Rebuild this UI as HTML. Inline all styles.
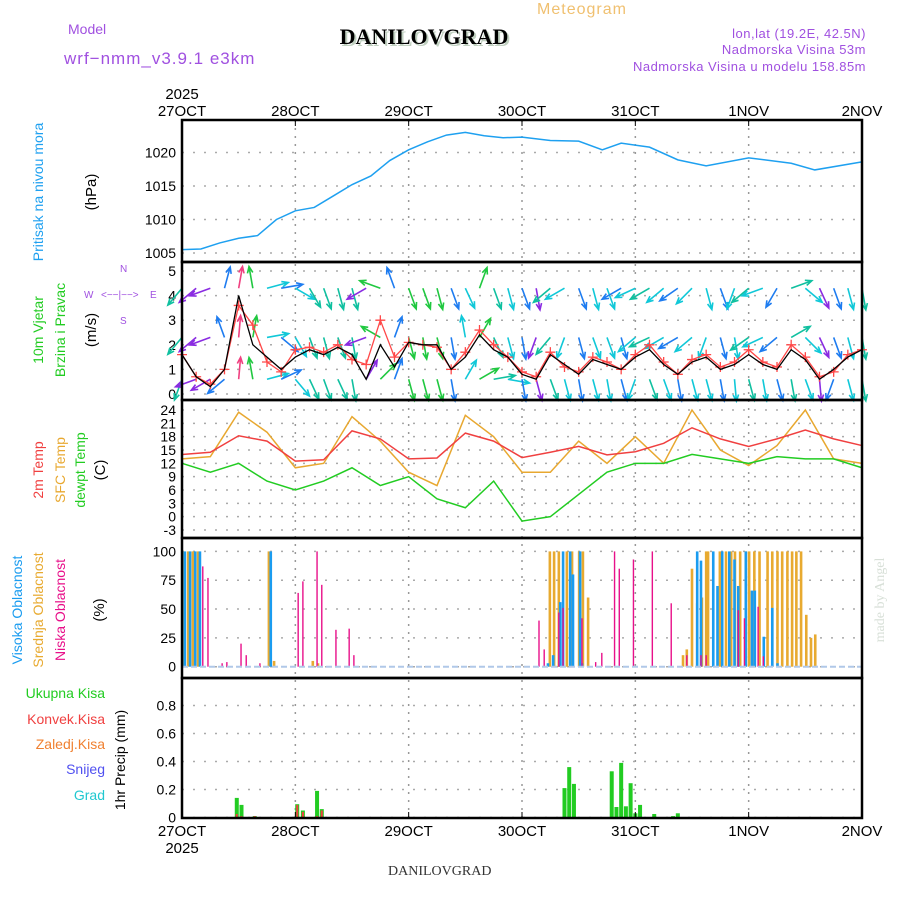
<!DOCTYPE html>
<html><head><meta charset="utf-8">
<style>
html,body{margin:0;padding:0;background:#fff;}
svg{display:block;font-family:"Liberation Sans",sans-serif;}
</style></head>
<body>
<svg id="chart" width="900" height="900" viewBox="0 0 900 900" xmlns="http://www.w3.org/2000/svg">
<text x="582" y="14" font-size="16" fill="#f0c070" text-anchor="middle" letter-spacing="1">Meteogram</text>
<text x="68" y="34" font-size="14" fill="#a050e0">Model</text>
<text x="64" y="64" font-size="17" fill="#a050e0" letter-spacing="1">wrf−nmm_v3.9.1 e3km</text>
<text x="424" y="44" font-size="22" font-weight="bold" fill="#c0d0c0" text-anchor="middle" font-family="Liberation Serif" transform="translate(2,2)">DANILOVGRAD</text>
<text x="424" y="44" font-size="22" font-weight="bold" fill="#000" text-anchor="middle" font-family="Liberation Serif">DANILOVGRAD</text>
<text x="866" y="38" font-size="13" fill="#a050e0" text-anchor="end" letter-spacing="0.5">lon,lat (19.2E, 42.5N)</text>
<text x="866" y="54" font-size="13" fill="#a050e0" text-anchor="end" letter-spacing="0.5">Nadmorska Visina 53m</text>
<text x="866" y="71" font-size="13" fill="#a050e0" text-anchor="end" letter-spacing="0.5">Nadmorska Visina u modelu 158.85m</text>
<text x="388" y="875" font-size="14" fill="#333" font-family="Liberation Serif">DANILOVGRAD</text>
<text transform="translate(884,600) rotate(-90)" font-size="14" fill="#d8e0d8" text-anchor="middle" font-family="Liberation Serif">made by Angel</text>
<g id="g"></g>
</svg>
<script>
// ---------- data ----------
const dayLabels = ["27OCT","28OCT","29OCT","30OCT","31OCT","1NOV","2NOV"];
const presHours = [0,4,8,12,16,20,24,28,32,36,40,44,48,52,56,60,64,68,72,78,84,89,93,99,105,111,120,129,134,144];
const presVals = [1005.5,1005.6,1006.5,1007.2,1007.6,1010,1011.3,1011.8,1013.5,1015.2,1016.5,1018.8,1020.4,1021.6,1022.6,1023,1022.5,1022.2,1022.3,1021.8,1021.7,1020.4,1021.4,1020.8,1018.9,1018,1019.2,1018.4,1017.4,1018.6];
const presTicks = [1005,1010,1015,1020];
const windHours = [0,3,6,9,12,15,18,21,24,27,30,33,36,39,42,45,48,51,54,57,60,63,66,69,72,75,78,81,84,87,90,93,96,99,102,105,108,111,114,117,120,123,126,129,132,135,138,141,144];
const windSpeed = [1.6,0.7,0.3,1.0,4.0,2.0,1.5,1.0,1.5,1.8,1.6,1.9,1.6,0.6,2.0,1.1,2.1,2.0,2.0,1.0,1.5,2.4,1.8,1.5,0.8,0.6,1.6,1.2,0.8,1.4,1.2,1.0,1.5,1.8,1.2,0.8,1.3,1.5,1.0,1.2,1.6,1.2,1.0,1.8,1.4,0.6,1.0,1.5,1.8];
const gustSpeed = [1.6,0.7,0.4,1.0,3.6,2.8,1.3,0.9,1.8,1.9,1.7,2.0,1.4,1.2,3.0,1.5,2.1,2.0,1.9,1.0,1.7,2.6,2.0,1.5,0.9,0.7,1.7,1.1,0.9,1.5,1.3,1.0,1.6,2.0,1.3,0.8,1.4,1.6,1.1,1.3,1.8,1.3,1.1,2.0,1.5,0.7,0.9,1.6,1.8];
const windTicks = [0,1,2,3,4,5];
const dirTop = [220,230,250,15,10,350,75,80,120,150,160,165,165,240,290,340,160,160,165,160,155,20,160,165,160,170,230,240,160,165,160,240,245,240,230,235,225,165,160,200,230,250,210,70,130,155,160,165,170];
const dirMid = [220,230,250,340,5,10,80,130,150,160,165,160,170,250,300,20,165,170,165,170,350,30,155,165,170,200,220,200,165,160,160,165,230,245,240,240,230,200,165,170,235,245,230,60,135,155,160,165,170];
const dirLow = [200,250,240,230,5,350,75,65,140,155,160,155,170,30,45,20,165,165,165,170,30,60,80,100,170,165,160,165,170,165,170,165,200,160,160,170,165,165,170,175,165,170,165,170,160,175,200,165,170];
const rowLevels = [4.3,2.3,0.6];
const tempHours = [0,6,12,18,24,30,36,42,48,54,60,66,72,78,84,90,96,102,108,114,120,126,132,138,144];
const temp2m = [14,14.5,18.2,17.0,12.5,12.8,19.3,17.5,13.0,13.2,18.8,17.0,13.3,14.5,15.8,13.9,14.6,16.5,20.0,17.5,15.8,17.5,19.5,17.5,16.0];
const tempSfc = [13,13.5,23.5,19,11,12,22.5,17,10,7,22.8,18,10,10,17,12,18,12,24,15,11.5,16,24,13,12];
const tempDew = [12,10,12,8,6,8,11,7,9,4,2,8,-1,0,5,10,12,12,14,13,12,13.5,13,13,11];
const tempTicks = [-3,0,3,6,9,12,15,18,21,24];
const highHours = [0.6,1.7,2.8,3.8,18.8,77.5,78.6,80.1,80.7,82.2,82.8,84.3,84.7,109.1,109.9,112.5,113.4,114.4,115.9,117.0,117.8,119.4,120.7,121.3,123.2,125.0,126.1];
const highVals = [100,100,100,100,100,3,10,56,100,100,80,100,3,100,92,100,70,100,100,93,70,100,66,66,26,51,3];
const midHours = [0.2,1.3,2.3,3.4,18.4,19.5,27.7,28.8,77.9,78.8,79.8,81.5,82.6,84.1,84.9,86.0,106.1,106.9,108.0,109.1,110.1,111.0,111.4,113.9,115.2,116.3,117.1,118.2,119.4,120.1,121.2,122.3,124.0,125.0,126.1,127.1,128.2,129.2,130.1,131.1,132.2,133.2,134.1];
const midVals = [100,100,100,100,100,5,5,3,100,100,100,100,100,100,100,60,10,15,85,55,60,100,100,100,100,100,100,100,100,100,100,100,100,100,100,100,100,100,100,100,45,25,28];
const lowHours = [4.4,5.5,8.5,9.5,12.5,13.6,16.5,24.6,25.6,28.6,29.6,32.6,35.4,36.4,75.6,76.7,79.8,80.7,84.7,87.6,88.9,91.6,92.6,95.6,99.6,103.6,106.9,109.9,111.0,117.8,119.1,122.0,123.1];
const lowVals = [87,77,3,4,20,10,3,64,74,100,71,32,33,10,40,15,47,51,42,4,12,100,85,93,100,55,10,10,10,49,42,52,9];
const cloudTicks = [0,25,50,75,100];
const precipHours = [11.6,12.6,15.4,24.4,25.6,28.6,29.6,81,82,83,91,92,93,94,95,96,97,100,104,105];
const precipTotal = [0.14,0.09,0.01,0.095,0.05,0.19,0.06,0.21,0.36,0.24,0.33,0.075,0.39,0.08,0.245,0.03,0.09,0.025,0.01,0.03];
const precipConv = [0.025,0.01,0.01,0.09,0.04,0.01,0.05,0,0,0,0,0,0,0,0,0,0,0,0,0];
const precipTicks = [0,0.2,0.4,0.6,0.8];

// ---------- scales ----------
const X0=182, X1=862;
const X = h => X0 + h*(X1-X0)/144;
const yP = p => 253 - (p-1005)*6.7;
const yW = v => 394 - v*24.6;
const yT = t => 410 + (24-t)*4.444;
const yC = c => 666.7 - c*1.153;
const yR = r => 817.5 - r*140;
const panels = [[120,262],[262,400],[400,538],[538,678],[678,818]];
const NS="http://www.w3.org/2000/svg";
const G=document.getElementById('g');
function mk(tag, attrs, parent){const e=document.createElementNS(NS,tag);for(const k in attrs)e.setAttribute(k,attrs[k]);(parent||G).appendChild(e);return e;}
function txt(s,attrs,parent){const e=mk('text',attrs,parent);e.textContent=s;return e;}

// gridlines
for(let d=1;d<6;d++){
  const l=mk('line',{x1:X(d*24),x2:X(d*24),y1:120,y2:818,stroke:'#999','stroke-width':1.5,'stroke-dasharray':'2,6'});
  
  
}
function hgrid(ticks,f,fmt,name){
  ticks.forEach(t=>{
    const l=mk('line',{x1:X0,x2:X1,y1:f(t),y2:f(t),stroke:'#aaa','stroke-width':1.5,'stroke-dasharray':'2,9'});
    
    
    const tx=txt(fmt(t),{x:176,y:f(t)+5,'font-size':14,'text-anchor':'end',fill:'#000'});
    
    
  });
}
hgrid(presTicks,yP,String,'pressure');
hgrid(windTicks,yW,String,'wind');
hgrid(tempTicks,yT,String,'temp');
hgrid(cloudTicks,yC,String,'cloud');
hgrid(precipTicks,yR,t=>t===0?'0':t.toFixed(1),'precip');

// pressure
const pl=mk('polyline',{points:presHours.map((h,i)=>X(h)+','+yP(presVals[i])).join(' '),fill:'none',stroke:'#1ea0f0','stroke-width':1.5});



// wind arrows
function speedColor(v){if(v<0.8)return '#8a2be2';if(v<1.2)return '#1e7cf0';if(v<1.6)return '#10c8d8';if(v<2.0)return '#10c0a0';if(v<2.6)return '#20c840';if(v<3.2)return '#90d830';return '#f04080';}
const dirRows=[dirTop,dirMid,dirLow];
dirRows.forEach((arr,r)=>{
  const gr=mk('g',{});
  
  
  arr.forEach((d,i)=>{
    const x=X(windHours[i]), y=yW(rowLevels[r]);
    const a=d*Math.PI/180, L=22;
    const tx=x+L*Math.sin(a), ty=y-L*Math.cos(a);
    const c=speedColor(windSpeed[i]);
    const h1=a+Math.PI-0.4, h2=a+Math.PI+0.4;
    mk('path',{d:`M${x},${y}L${tx},${ty}M${tx+7*Math.sin(h1)},${ty-7*Math.cos(h1)}L${tx},${ty}L${tx+7*Math.sin(h2)},${ty-7*Math.cos(h2)}`,stroke:c,'stroke-width':1.6,fill:'none'},gr);
  });
});
// gust line with + markers
const gl=mk('polyline',{points:windHours.map((h,i)=>X(h)+','+yW(gustSpeed[i])).join(' '),fill:'none',stroke:'#ff4848','stroke-width':1.3});


windHours.forEach((h,i)=>{
  const m=mk('path',{d:`M${X(h)-5},${yW(gustSpeed[i])}h10M${X(h)},${yW(gustSpeed[i])-5}v10`,stroke:'#ff4848','stroke-width':1.3});
  
  
});
const wl=mk('polyline',{points:windHours.map((h,i)=>X(h)+','+yW(windSpeed[i])).join(' '),fill:'none',stroke:'#000','stroke-width':1.3});



// temperatures
[[tempSfc,'#e8a830','sfc-temp-line'],[temp2m,'#f04040','temp-2m-line'],[tempDew,'#22cc22','dewpoint-line']].forEach(s=>{
  const l=mk('polyline',{points:tempHours.map((h,i)=>X(h)+','+yT(s[0][i])).join(' '),fill:'none',stroke:s[1],'stroke-width':1.5});
  
  
});

// clouds
function bars(hours,vals,color,off,w,name){
  hours.forEach((h,i)=>{
    const y=yC(vals[i]);
    const b=mk('rect',{x:X(h)+off-w/2,y:y,width:w,height:Math.max(0,yC(0)-y),fill:color});
    
    
  });
}
bars(midHours,midVals,'#e8aa30',0,2.6,'mid-cloud-bar');
bars(highHours,highVals,'#1a9cf0',0,2.6,'high-cloud-bar');
bars(lowHours,lowVals,'#e8108a',0,1.4,'low-cloud-bar');
const cb=mk('line',{x1:X0,x2:X1,y1:yC(0),y2:yC(0),stroke:'#b0c8e8','stroke-width':2,'stroke-dasharray':'6,3'});



// precipitation
precipHours.forEach((h,i)=>{
  const y=yR(precipTotal[i]);
  const b=mk('rect',{x:X(h)-2,y:y,width:4,height:yR(0)-y,fill:'#22cc22'});
  
  
  if(precipConv[i]>0){
    const yc=yR(precipConv[i]);
    const c=mk('rect',{x:X(h)-1,y:yc,width:2,height:yR(0)-yc,fill:'#f04040'});
    
    
  }
});

// panel borders
panels.forEach((p,i)=>{
  const r=mk('rect',{x:X0,y:p[0],width:X1-X0,height:p[1]-p[0],fill:'none',stroke:'#000','stroke-width':2.5});
  
  
});

// date axis labels
dayLabels.forEach((d,i)=>{
  const x=X(i*24);
  const t1=txt(d,{x:x,y:116,'font-size':15,'text-anchor':'middle'});
  
  
  const t2=txt(d,{x:x,y:836,'font-size':15,'text-anchor':'middle'});
  
  
  mk('line',{x1:x,x2:x,y1:120,y2:126,stroke:'#000','stroke-width':1});
  mk('line',{x1:x,x2:x,y1:812,y2:818,stroke:'#000','stroke-width':1});
});
const y1=txt('2025',{x:182,y:99,'font-size':15,'text-anchor':'middle'});


const y2=txt('2025',{x:182,y:853,'font-size':15,'text-anchor':'middle'});



// rotated axis titles
function vt(s,x,y,color,size,name){
  const t=txt(s,{transform:`translate(${x},${y}) rotate(-90)`,'font-size':size||14,'text-anchor':'middle',fill:color});
  
  
}
vt('Pritisak na nivou mora',43,192,'#1ea0f0',14,'pressure-title');
vt('(hPa)',96,192,'#000',15,'pressure-unit');
vt('10m Vjetar',43,330,'#22cc22',14,'wind-title');
vt('Brzina i Pravac',65,330,'#22cc22',14,'wind-subtitle');
vt('(m/s)',96,330,'#000',15,'wind-unit');
vt('2m Temp',43,470,'#f04040',14,'temp-2m-title');
vt('SFC Temp',65,470,'#e8a830',14,'sfc-temp-title');
vt('dewpt Temp',85,470,'#22cc22',14,'dewpoint-title');
vt('(C)',105,470,'#000',15,'temp-unit');
vt('Visoka Oblacnost',22,610,'#1a9cf0',14,'high-cloud-title');
vt('Srednja Oblacnost',43,610,'#e8aa30',14,'mid-cloud-title');
vt('Niska Oblacnost',65,610,'#e8108a',14,'low-cloud-title');
vt('(%)',104,610,'#000',15,'cloud-unit');
vt('1hr Precip (mm)',125,760,'#000',14,'precip-title');

// compass rose
[['W',84,298],['E',150,298],['<−−|−−>',101,298],['N',120,272],['S',120,324]].forEach(p=>{
  const e=txt(p[0],{x:p[1],y:p[2],fill:'#a050e0','font-size':10});
  
  
});
// precip legend
[['Ukupna Kisa','#22cc22',698],['Konvek.Kisa','#f04040',724],['Zaledj.Kisa','#f08030',749],['Snijeg','#5050f0',774],['Grad','#20c8d0',800]].forEach(l=>{
  const e=txt(l[0],{x:105,y:l[2],'font-size':14,'text-anchor':'end',fill:l[1]});
  
  
});
</script>
</body></html>
